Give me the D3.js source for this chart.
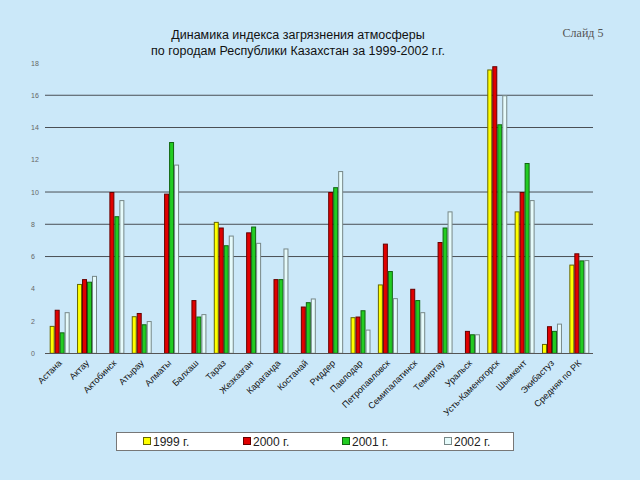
<!DOCTYPE html>
<html><head><meta charset="utf-8">
<script src="https://cdn.jsdelivr.net/npm/d3@7/dist/d3.min.js"></script>
<style>html,body{margin:0;padding:0;background:#cbe8f9;}svg{display:block;}</style>
</head><body>
<script>
const categories = ["Астана","Актау","Актобинск","Атырау","Алматы","Балхаш","Тараз","Жезказган","Караганда","Костанай","Риддер","Павлодар","Петропавловск","Семипалатинск","Темиртау","Уральск","Усть-Каменогорск","Шымкент","Экибастуз","Средняя по РК"];
const seriesNames = ["1999 г.","2000 г.","2001 г.","2002 г."];
const v1999 = [1.7,4.3,0,2.3,0,0,8.15,0,0,0,0,2.24,4.27,0,0,0,17.6,8.8,0.58,5.5];
const v2000 = [2.7,4.6,10.0,2.5,9.9,3.3,7.8,7.5,4.6,2.9,10.0,2.28,6.8,4.0,6.9,1.39,17.8,10.0,1.68,6.2];
const v2001 = [1.3,4.44,8.5,1.8,13.1,2.28,6.7,7.86,4.6,3.17,10.3,2.67,5.1,3.3,7.8,1.18,14.2,11.8,1.39,5.76];
const v2002 = [2.55,4.8,9.5,2.0,11.7,2.43,7.3,6.85,6.5,3.4,11.3,1.47,3.42,2.55,8.8,1.18,16.0,9.5,1.84,5.78];
const yTicks = [0,2,4,6,8,10,12,14,16,18];
const gridValues = [6,8,10,14,16];
const colors = ["#ffff00","#e00000","#22cc22","#e6fbfb"];
const strokes = ["#666600","#660000","#116611","#778888"];

const series = [v1999,v2000,v2001,v2002];
const W=640,H=480;
const svg = d3.select("body").append("svg").attr("width",W).attr("height",H);
svg.append("rect").attr("width",W).attr("height",H).attr("fill","#cbe8f9");

const x = d3.scaleBand().domain(categories).range([46,593]).paddingInner(0.27).paddingOuter(0.135);
const xs = d3.scaleBand().domain(d3.range(4)).range([0,x.bandwidth()]);
const y = d3.scaleLinear().domain([0,18]).range([353.3,63]);

// title
svg.append("text").attr("x",298).attr("y",39).attr("text-anchor","middle")
  .attr("font-family","Liberation Sans, Arial, sans-serif").attr("font-size",12.5).attr("fill","#111")
  .text("Динамика индекса загрязнения атмосферы");
svg.append("text").attr("x",298).attr("y",55).attr("text-anchor","middle")
  .attr("font-family","Liberation Sans, Arial, sans-serif").attr("font-size",12.5).attr("fill","#111")
  .text("по городам Республики Казахстан за 1999-2002 г.г.");
svg.append("text").attr("x",583).attr("y",37).attr("text-anchor","middle")
  .attr("font-family","Liberation Serif, Times New Roman, serif").attr("font-size",12).attr("fill","#555")
  .text("Слайд 5");

// grid
svg.append("g").selectAll("line").data(gridValues).join("line")
  .attr("x1",45).attr("x2",593).attr("y1",d=>y(d)).attr("y2",d=>y(d))
  .attr("stroke","#4a4f55").attr("stroke-width",1);

// y labels
svg.append("g").selectAll("text").data(yTicks).join("text")
  .attr("x",31).attr("y",d=>y(d)+2.5)
  .attr("font-family","Liberation Sans, Arial, sans-serif").attr("font-size",7).attr("fill","#666")
  .text(d=>d);

// bars
const g = svg.append("g");
categories.forEach((c,i)=>{
  series.forEach((s,k)=>{
    if(s[i]>0){
      g.append("rect").attr("x",x(c)+xs(k)+0.5).attr("y",y(s[i])+0.5)
        .attr("width",xs.bandwidth()-1).attr("height",y(0)-y(s[i])-0.5)
        .attr("fill",colors[k]).attr("stroke",strokes[k]).attr("stroke-width",1);
    }
  });
});

// x axis line
svg.append("line").attr("x1",45).attr("x2",593).attr("y1",353.5).attr("y2",353.5).attr("stroke","#555");

// x labels
svg.append("g").selectAll("text").data(categories).join("text")
  .attr("transform",d=>`translate(${x(d)+x.bandwidth()/2+1},${362}) rotate(-45)`)
  .attr("text-anchor","end").attr("dominant-baseline","middle")
  .attr("font-family","Liberation Sans, Arial, sans-serif").attr("font-size",9).attr("fill","#111")
  .text(d=>d);

// legend
const lg = svg.append("g");
lg.append("rect").attr("x",116.5).attr("y",432.5).attr("width",397).attr("height",18)
  .attr("fill","#ffffff").attr("stroke","#777");
const lx = [143,243,342,444];
seriesNames.forEach((n,k)=>{
  lg.append("rect").attr("x",lx[k]+0.5).attr("y",437.5).attr("width",7).attr("height",7)
    .attr("fill",colors[k]).attr("stroke",strokes[k]);
  lg.append("text").attr("x",lx[k]+10).attr("y",446).attr("font-family","Liberation Sans, Arial, sans-serif")
    .attr("font-size",12).attr("fill","#222").text(n);
});
</script>
</body></html>
